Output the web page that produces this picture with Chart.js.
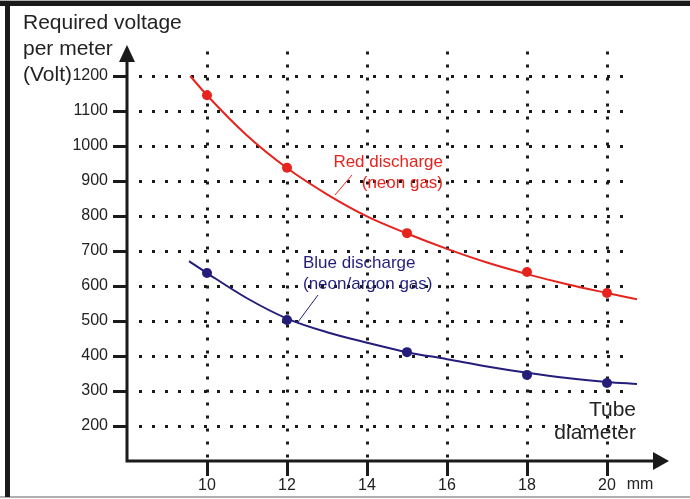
<!DOCTYPE html>
<html>
<head>
<meta charset="utf-8">
<script src="https://cdn.jsdelivr.net/npm/chart.js@4.4.1/dist/chart.umd.min.js"></script>
<style>
  html, body { margin: 0; padding: 0; background: #fff; }
  #wrap { width: 690px; height: 499px; position: relative; }
</style>
</head>
<body>
<div id="wrap"><canvas id="voltChart" width="690" height="499"></canvas></div>
<script>
// tick labels
const xTicks = [10, 12, 14, 16, 18, 20];
const yTicks = [200, 300, 400, 500, 600, 700, 800, 900, 1000, 1100, 1200];

// measured points (tube diameter in mm, volts per meter)
const diameters = [10, 12, 15, 18, 20];
const redMeasured = [1145, 938, 751, 640, 580];
const blueMeasured = [637, 503, 411, 346, 323];

// fitted curves
const redCurveX = [9.58, 10, 11, 12, 13, 14, 15, 16, 17, 18, 19, 20, 20.75];
const redCurveY = [1200, 1145, 1030, 937, 862, 799, 750, 706, 667, 634, 605, 580, 562];
const blueCurveX = [9.55, 10, 11, 12, 13, 14, 15, 16, 17, 18, 19, 20, 20.75];
const blueCurveY = [671, 637, 565, 507, 468, 438, 411, 391, 370, 352, 337, 326, 320];

const RED = 'rgb(230, 36, 30)';
const BLUE = 'rgb(36, 30, 122)';
const INK = '#1a1a1a';
const FONT = '"Liberation Sans", Arial, sans-serif';

const toPoints = (xs, ys) => xs.map((x, i) => ({ x: x, y: ys[i] }));

// dotted grid, axes with arrows, tick marks, frame and labels
const decorations = {
    id: 'decorations',
    beforeDraw(chart) {
        const ctx = chart.ctx;
        ctx.save();
        ctx.fillStyle = '#fff';
        ctx.fillRect(0, 0, chart.width, chart.height);
        // frame
        ctx.fillStyle = '#b0b0b0';
        ctx.fillRect(0, 0, chart.width, 1);
        ctx.fillRect(0, 496, chart.width, 2);
        ctx.fillStyle = INK;
        ctx.fillRect(0, 1, chart.width, 5);
        ctx.fillRect(5, 1, 5, 496);
        ctx.restore();
    },
    beforeDatasetsDraw(chart) {
        const ctx = chart.ctx;
        const xs = chart.scales.x, ys = chart.scales.y;
        ctx.save();
        ctx.strokeStyle = INK;
        ctx.lineWidth = 3;
        ctx.setLineDash([3, 10]);
        const gx0 = xs.getPixelForValue(8.3), gx1 = xs.getPixelForValue(20.5);
        yTicks.forEach(v => {
            const y = Math.round(ys.getPixelForValue(v)) + 0.5;
            ctx.beginPath();
            ctx.moveTo(gx0, y);
            ctx.lineTo(gx1, y);
            ctx.stroke();
        });
        const gy0 = ys.getPixelForValue(1270), gy1 = ys.getPixelForValue(100);
        xTicks.forEach(v => {
            const x = Math.round(xs.getPixelForValue(v)) + 0.5;
            ctx.beginPath();
            ctx.moveTo(x, gy0);
            ctx.lineTo(x, gy1);
            ctx.stroke();
        });
        ctx.restore();
    },
    afterDatasetsDraw(chart) {
        const ctx = chart.ctx;
        const xs = chart.scales.x, ys = chart.scales.y;
        const ax = xs.getPixelForValue(8);
        const ay = ys.getPixelForValue(100);
        ctx.save();
        ctx.strokeStyle = INK;
        ctx.fillStyle = INK;
        ctx.lineWidth = 3;
        // axes
        ctx.beginPath();
        ctx.moveTo(ax, ay + 1.5);
        ctx.lineTo(ax, 60);
        ctx.moveTo(ax - 1.5, ay);
        ctx.lineTo(655, ay);
        ctx.stroke();
        ctx.beginPath();
        ctx.moveTo(ax - 8, 62);
        ctx.lineTo(ax + 8, 62);
        ctx.lineTo(ax, 45);
        ctx.closePath();
        ctx.fill();
        ctx.beginPath();
        ctx.moveTo(653, ay - 9);
        ctx.lineTo(653, ay + 9);
        ctx.lineTo(669, ay);
        ctx.closePath();
        ctx.fill();
        // tick marks
        ctx.beginPath();
        yTicks.forEach(v => {
            const y = Math.round(ys.getPixelForValue(v)) + 0.5;
            ctx.moveTo(ax - 14, y);
            ctx.lineTo(ax, y);
        });
        xTicks.forEach(v => {
            const x = Math.round(xs.getPixelForValue(v)) + 0.5;
            ctx.moveTo(x, ay);
            ctx.lineTo(x, ay + 15);
        });
        ctx.stroke();

        // texts
        ctx.textBaseline = 'middle';
        ctx.fillStyle = '#222';
        ctx.font = '21px ' + FONT;
        ctx.textAlign = 'left';
        ctx.fillText('Required voltage', 23, 23);
        ctx.fillText('per meter', 23, 49);
        ctx.fillText('(Volt)', 23, 75);
        ctx.textAlign = 'right';
        ctx.fillText('Tube', 636, 410);
        ctx.fillText('diameter', 636, 433);
        ctx.font = '16px ' + FONT;
        ctx.textAlign = 'center';
        ctx.fillText('mm', 640, 485);

        ctx.font = '17px ' + FONT;
        ctx.fillStyle = RED;
        ctx.textAlign = 'right';
        ctx.fillText('Red discharge', 443, 162);
        ctx.fillText('(neon gas)', 443, 183);
        ctx.strokeStyle = RED;
        ctx.lineWidth = 1;
        ctx.beginPath();
        ctx.moveTo(352, 175);
        ctx.lineTo(335, 195);
        ctx.stroke();

        ctx.fillStyle = BLUE;
        ctx.textAlign = 'left';
        ctx.fillText('Blue discharge', 303, 263);
        ctx.fillText('(neon/argon gas)', 303, 284);
        ctx.strokeStyle = BLUE;
        ctx.beginPath();
        ctx.moveTo(318, 295);
        ctx.lineTo(298, 322);
        ctx.stroke();
        ctx.restore();
    }
};

new Chart(document.getElementById('voltChart'), {
    type: 'scatter',
    data: {
        datasets: [
            {
                label: 'Red curve',
                data: toPoints(redCurveX, redCurveY),
                showLine: true,
                borderColor: RED,
                borderWidth: 2,
                pointRadius: 0,
                cubicInterpolationMode: 'monotone'
            },
            {
                label: 'Red discharge (neon gas)',
                data: toPoints(diameters, redMeasured),
                showLine: false,
                pointRadius: 5,
                backgroundColor: RED,
                borderColor: RED,
                borderWidth: 0
            },
            {
                label: 'Blue curve',
                data: toPoints(blueCurveX, blueCurveY),
                showLine: true,
                borderColor: BLUE,
                borderWidth: 2,
                pointRadius: 0,
                cubicInterpolationMode: 'monotone'
            },
            {
                label: 'Blue discharge (neon/argon gas)',
                data: toPoints(diameters, blueMeasured),
                showLine: false,
                pointRadius: 5,
                backgroundColor: BLUE,
                borderColor: BLUE,
                borderWidth: 0
            }
        ]
    },
    options: {
        responsive: false,
        devicePixelRatio: 1,
        animation: false,
        layout: { padding: { top: 44.5, right: 23, left: 0, bottom: 0 } },
        plugins: {
            legend: { display: false },
            tooltip: { enabled: false }
        },
        scales: {
            x: {
                type: 'linear',
                min: 8,
                max: 21.5,
                border: { display: false },
                grid: { display: false, drawTicks: false },
                afterBuildTicks: scale => { scale.ticks = xTicks.map(v => ({ value: v })); },
                afterFit: scale => { scale.height = 38; },
                ticks: {
                    padding: 15,
                    color: '#222',
                    font: { family: FONT, size: 16 },
                    callback: v => String(v)
                }
            },
            y: {
                type: 'linear',
                min: 100,
                max: 1290,
                border: { display: false },
                grid: { display: false, drawTicks: false },
                afterBuildTicks: scale => { scale.ticks = yTicks.map(v => ({ value: v })); },
                afterFit: scale => { scale.width = 127; },
                ticks: {
                    padding: 19,
                    color: '#222',
                    font: { family: FONT, size: 16 },
                    callback: v => String(v)
                }
            }
        }
    },
    plugins: [decorations]
});
</script>
</body>
</html>
